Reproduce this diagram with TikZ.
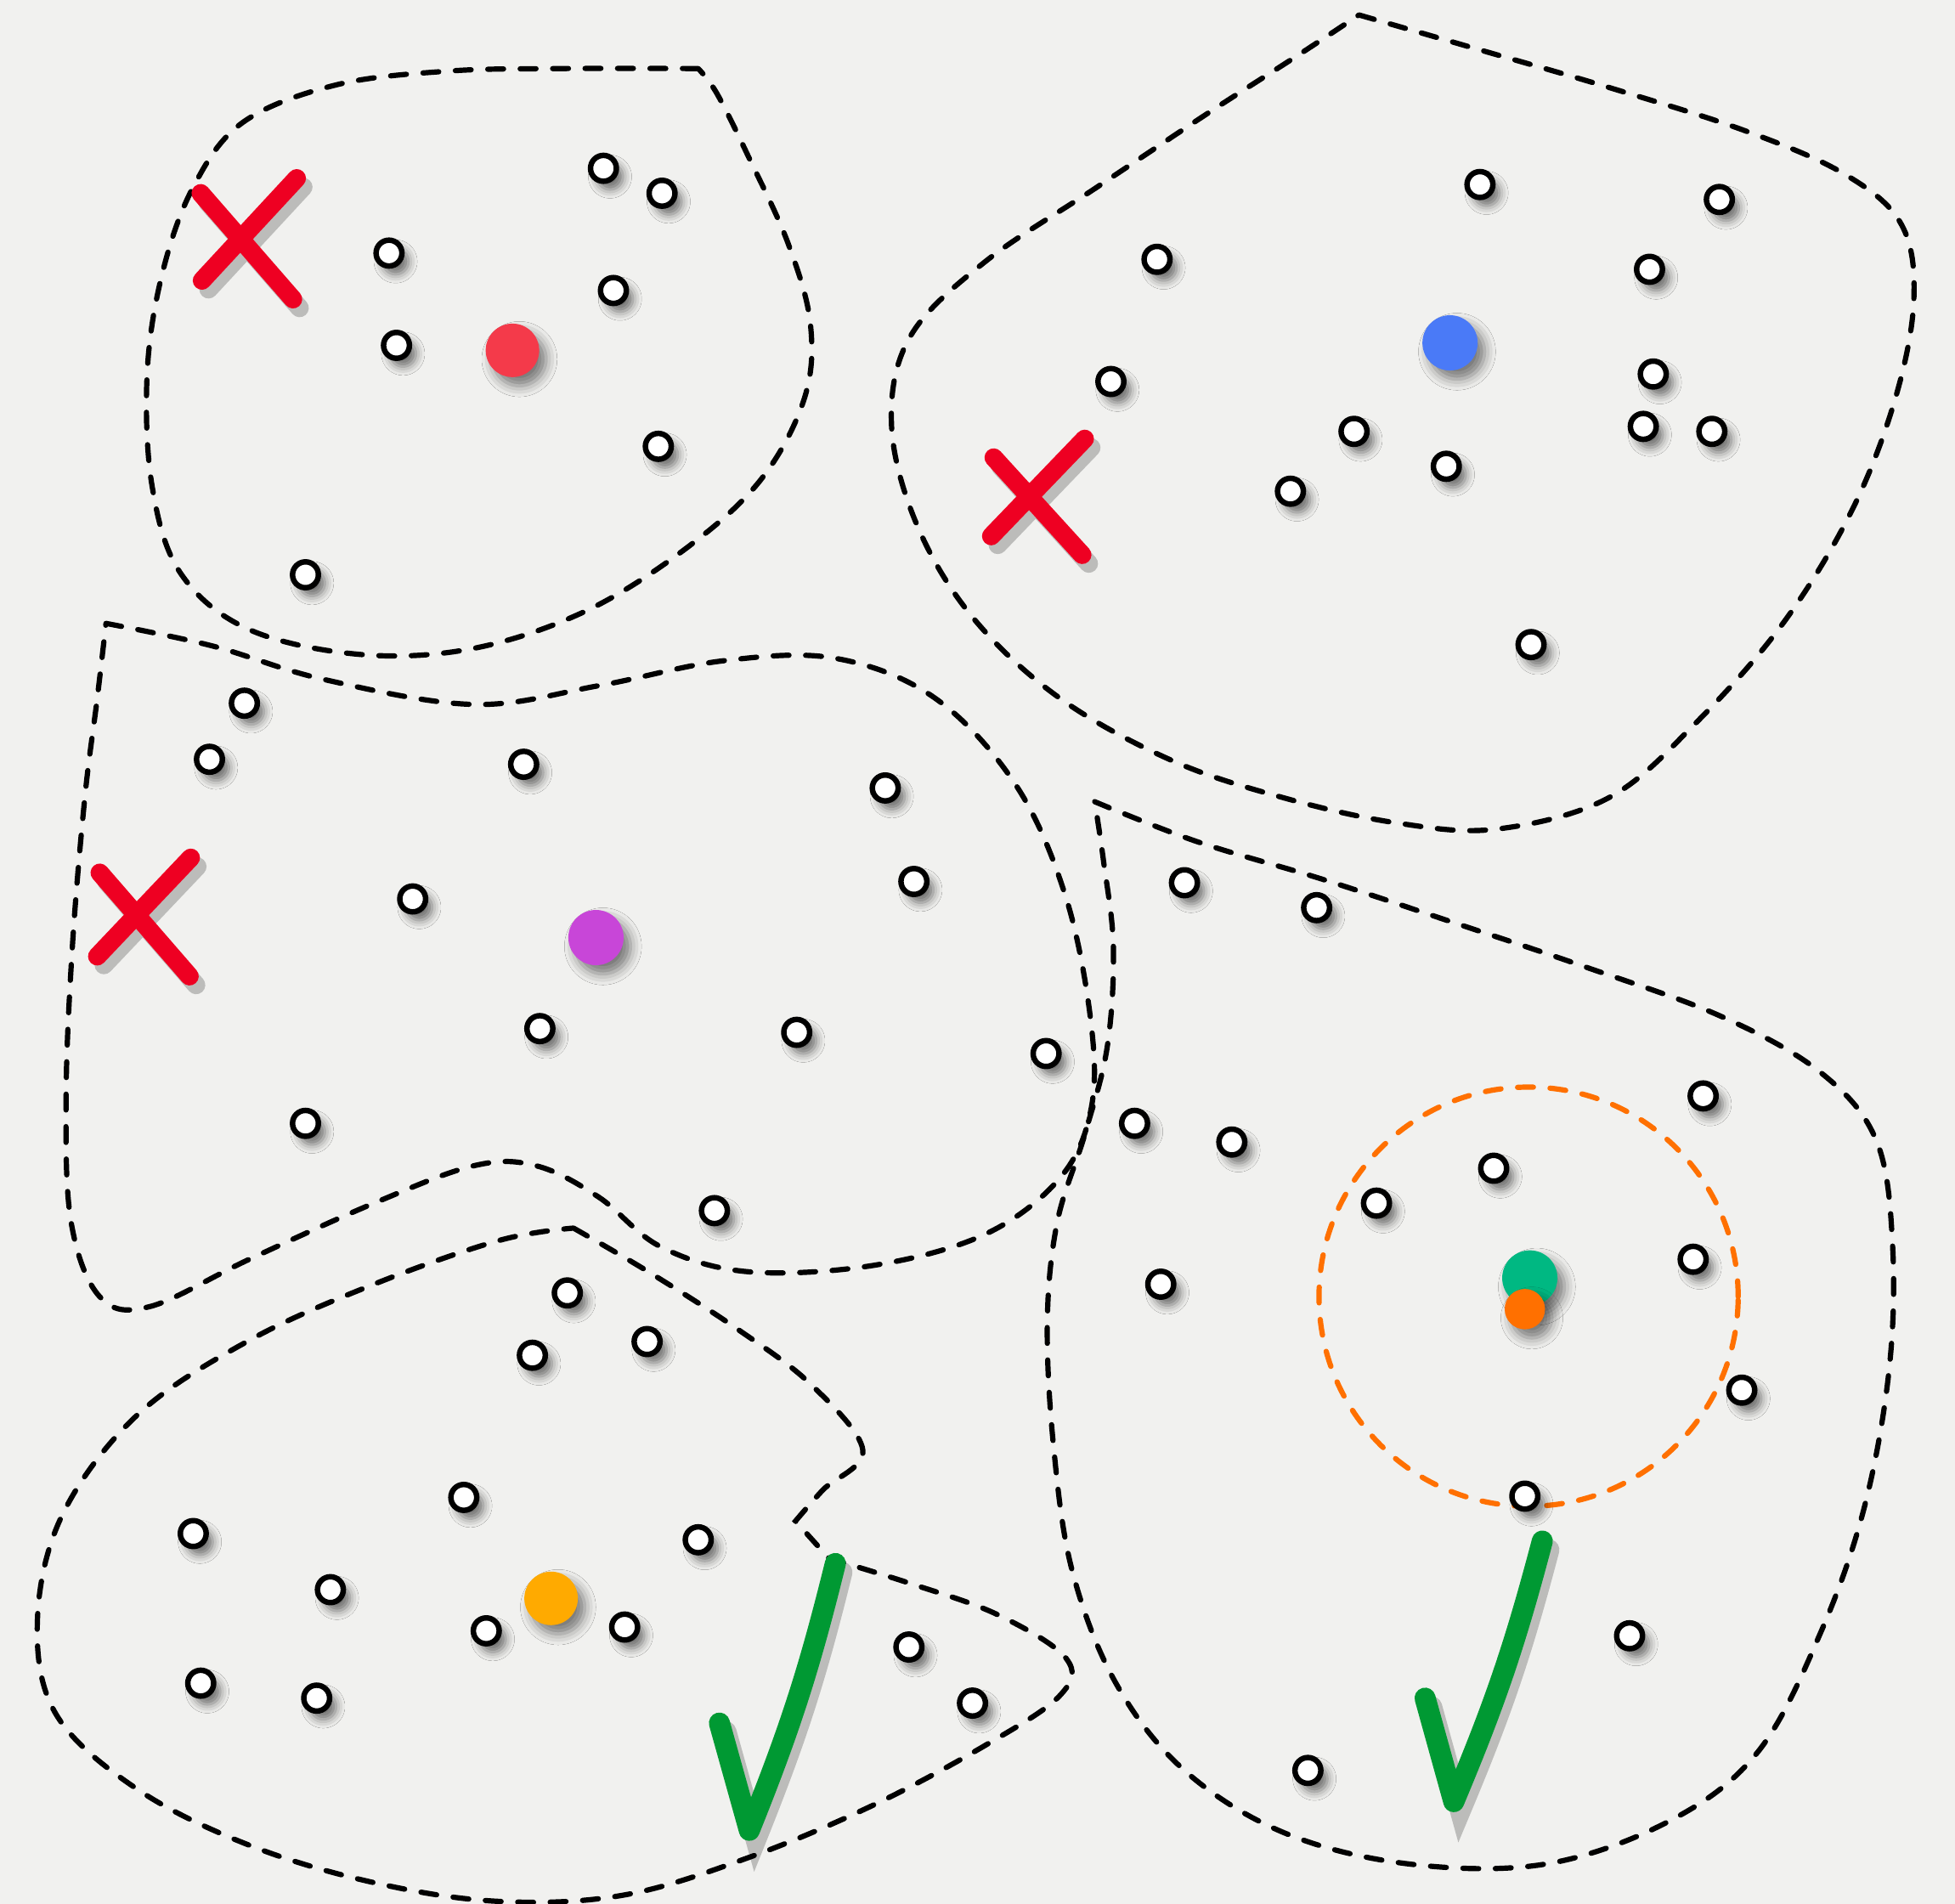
\documentclass[tikz,border=0pt]{standalone}
\usepackage{xcolor}
\usepackage{tikz}
\usetikzlibrary{shadows.blur}

\definecolor{paper}{HTML}{F1F1EF}
\definecolor{redmean}{HTML}{F43A4A}
\definecolor{bluemean}{HTML}{4A7AF7}
\definecolor{purplemean}{HTML}{C846D8}
\definecolor{ambermean}{HTML}{FFAA00}
\definecolor{greenmean}{HTML}{00B882}
\definecolor{orangemean}{HTML}{FF7000}
\definecolor{crossred}{HTML}{EE0022}
\definecolor{tickgreen}{HTML}{009933}

\tikzset{
  region/.style={line width=1.2pt, dash pattern=on 3.6pt off 3.8pt, line cap=round},
  sample/.style={fill=white, draw=black, line width=1.25pt,
    blur shadow={shadow xshift=1.5pt, shadow yshift=-1.9pt, shadow blur radius=2pt, shadow opacity=55}},
  centroid/.style={blur shadow={shadow xshift=1.6pt, shadow yshift=-2pt, shadow blur radius=2.5pt, shadow opacity=50}},
  markshade/.style={black, opacity=.22, line cap=round, xshift=1.5pt, yshift=-2pt},
  cross/.style={crossred, line width=4.2pt, line cap=round},
  tick/.style={tickgreen, line width=4.8pt, line cap=round, line join=round}
}

\begin{document}
\begin{tikzpicture}[x=0.01cm, y=-0.01cm]
\fill[paper] (0,0) rectangle (1568,1527);
\useasboundingbox (0,0) rectangle (1568,1527);

% cluster outlines
\draw[region] plot[smooth, tension=.6] coordinates {(560,55) (450,55) (360,57) (270,68) (195,98) (155,150) (130,220) (118,300) (122,390) (145,460) (200,505) (290,525) (380,520) (470,490) (550,440) (610,385) (645,320) (650,260) (632,195) (600,125) (575,75) (560,55)};
\draw[region] plot[smooth, tension=.6] coordinates {(1090,12) (1180,38) (1290,70) (1400,105) (1480,140) (1525,180) (1535,240) (1520,320) (1485,410) (1430,500) (1360,580) (1290,640) (1200,665) (1120,660) (1030,640) (940,610) (850,560) (780,495) (735,420) (715,340) (730,270) (790,210) (880,150) (970,90) (1040,45) (1090,12)};
\draw[region] plot[smooth, tension=.6] coordinates {(85,500) (170,518) (260,545) (380,565) (480,550) (580,530) (670,528) (750,560) (815,630) (855,720) (875,820) (875,890) (850,945) (790,990) (700,1015) (600,1020) (530,1000) (480,960) (430,935) (380,935) (300,965) (200,1010) (120,1048) (80,1040) (57,980) (53,880) (58,760) (68,640) (78,560) (85,500)};
\draw[region] plot[smooth, tension=.6] coordinates {(460,985) (520,1020) (590,1065) (650,1110) (692,1163) (660,1195) (638,1220)}
  -- plot[smooth, tension=.6] coordinates {(665,1250) (730,1270) (800,1295) (855,1330) (850,1360) (790,1400) (700,1448) (600,1490) (500,1520) (400,1525) (300,1510) (200,1480) (110,1435) (45,1375) (30,1300) (50,1215) (110,1135) (200,1075) (300,1030) (400,995) (460,985)};
\draw[region] plot[smooth, tension=.6] coordinates {(878,643) (960,675) (1060,705) (1160,738) (1270,775) (1380,815) (1460,860) (1505,915) (1518,1000) (1515,1100) (1495,1210) (1460,1310) (1410,1405) (1340,1460) (1240,1495) (1130,1495) (1030,1470) (950,1420) (895,1350) (860,1260) (845,1160) (840,1060) (848,980) (870,910) (888,840) (893,760) (885,690) (878,643)};
\draw[region, orangemean] (1226,1040) circle (1.68cm);

% samples
\foreach \px/\py in {484/135, 531/155, 312/203, 492/233, 318/277, 528/358, 245/461,
    1187/148, 1379/160, 928/208, 1323/216, 1326/300, 891/306, 1086/346, 1318/342, 1373/346, 1160/374, 1035/394, 1228/517,
    196/564, 168/609, 420/613, 710/632, 733/707, 331/721, 433/825, 639/828, 839/845, 245/901, 573/971,
    950/708, 1056/728, 1366/879, 910/901, 988/916, 1198/937, 1104/965, 1358/1010, 931/1030, 1397/1115, 1223/1200, 1307/1312, 1049/1420,
    455/1037, 519/1076, 427/1087, 372/1201, 155/1230, 560/1235, 265/1275, 390/1308, 501/1305, 729/1321, 161/1350, 254/1362, 780/1366}
  \path[sample] (\px,\py) circle (2.95pt);

% cluster means
\fill[centroid, redmean] (411,281) circle (6.1pt);
\fill[centroid, bluemean] (1163,275) circle (6.3pt);
\fill[centroid, purplemean] (478,752) circle (6.3pt);
\fill[centroid, ambermean] (442,1282) circle (6.1pt);
\fill[centroid, greenmean] (1227,1025) circle (6.3pt);
\fill[centroid, orangemean] (1223,1050) circle (4.6pt);

% rejected
\draw[markshade, line width=4.2pt] (161,155) -- (235,240) (238,143) -- (162,225);
\draw[cross] (161,155) -- (235,240) (238,143) -- (162,225);
\draw[markshade, line width=4.2pt] (797,367) -- (868,445) (870,352) -- (795,430);
\draw[cross] (797,367) -- (868,445) (870,352) -- (795,430);
\draw[markshade, line width=4.2pt] (80,700) -- (152,783) (153,688) -- (78,767);
\draw[cross] (80,700) -- (152,783) (153,688) -- (78,767);

% accepted
\draw[markshade, line width=4.8pt] (577,1382) -- (601,1468) to[bend right=4] (670,1254);
\draw[tick] (577,1382) -- (601,1468) to[bend right=4] (670,1254);
\draw[markshade, line width=4.8pt] (1143,1362) -- (1166,1445) to[bend right=4] (1237,1236);
\draw[tick] (1143,1362) -- (1166,1445) to[bend right=4] (1237,1236);
\end{tikzpicture}
\end{document}
